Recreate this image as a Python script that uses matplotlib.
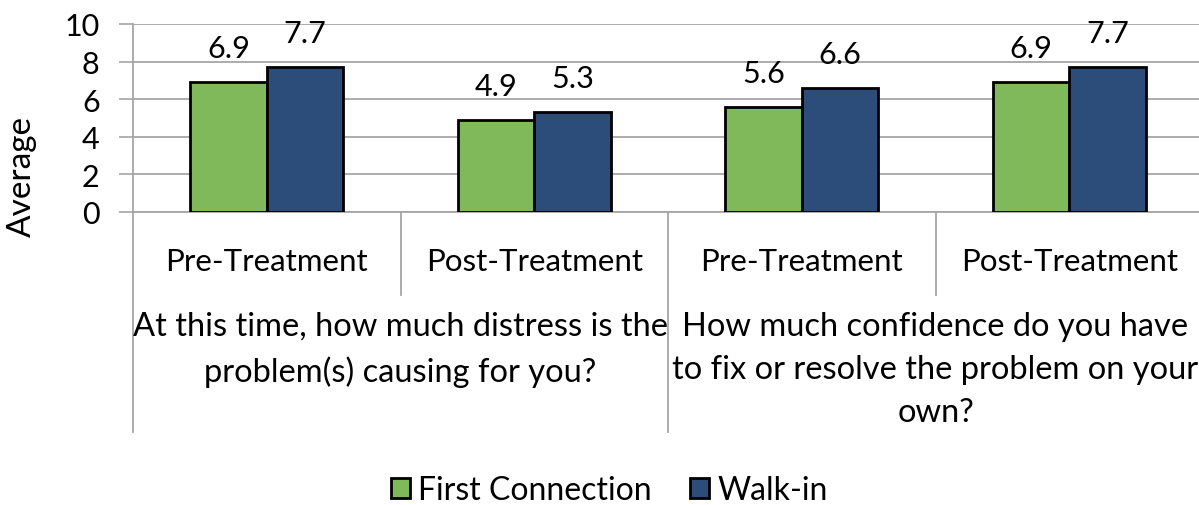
import matplotlib.pyplot as plt
import matplotlib.transforms as mtransforms
from matplotlib.patches import Patch

# Data
categories = ['Pre-Treatment', 'Post-Treatment', 'Pre-Treatment', 'Post-Treatment']
groups = ['At this time, how much distress is the\nproblem(s) causing for you?',
          'How much confidence do you have\nto fix or resolve the problem on your\nown?']
first_connection = [6.9, 4.9, 5.6, 6.9]
walk_in = [7.7, 5.3, 6.6, 7.7]

green = '#7fb95a'
blue = '#2c4c79'
grid_color = '#a6a6a6'

plt.rcParams['font.family'] = ['Lato', 'DejaVu Sans']

fig = plt.figure(figsize=(11.99, 5.06), dpi=100)
W, H = 1199, 506
ax = fig.add_axes([133 / W, 1 - 213 / H, 1070 / W, 188 / H])

x = list(range(len(categories)))
bw = 0.286
b1 = ax.bar([i - bw / 2 for i in x], first_connection, bw, color=green,
            edgecolor='black', linewidth=2, zorder=3)
b2 = ax.bar([i + bw / 2 for i in x], walk_in, bw, color=blue,
            edgecolor='black', linewidth=2, zorder=3)

# Data labels
for bars in (b1, b2):
    for rect in bars:
        h = rect.get_height()
        ax.annotate(f'{h:.1f}', (rect.get_x() + rect.get_width() / 2, h),
                    xytext=(0, 20), textcoords='offset pixels',
                    ha='center', va='bottom', fontsize=22)

ax.set_xlim(-0.5, 3.5)
ax.set_ylim(0, 10)
ax.set_yticks(range(0, 11, 2))
ax.tick_params(axis='y', labelsize=22, length=10, width=1.2, color=grid_color, pad=14)
ax.set_xticks([])
ax.yaxis.grid(True, color=grid_color, linewidth=1.3, zorder=0)
for s in ('top', 'right'):
    ax.spines[s].set_visible(False)
for s in ('left', 'bottom'):
    ax.spines[s].set_color(grid_color)
    ax.spines[s].set_linewidth(1.3)

fig.text(22 / W, 1 - 177 / H, 'Average', rotation=90, ha='center', va='center', fontsize=24)

# Multi-level category axis
trans = mtransforms.blended_transform_factory(ax.transData, fig.transFigure)
for i, c in enumerate(categories):
    ax.text(i, 1 - 262 / H, c, transform=trans, ha='center', va='center', fontsize=22.5)
for d in (0.5, 2.5):
    ax.plot([d, d], [1 - 213 / H, 1 - 296 / H], transform=trans, color=grid_color,
            linewidth=1.3, clip_on=False)
for d in (-0.5, 1.5, 3.5):
    ax.plot([d, d], [1 - 213 / H, 1 - 433 / H], transform=trans, color=grid_color,
            linewidth=1.3, clip_on=False)
for j, g in enumerate(groups):
    ax.text(2 * j + 0.5, 1 - 312 / H, g, transform=trans, ha='center', va='top',
            fontsize=23.5, linespacing=1.55)

# Legend
handles = [Patch(facecolor=green, edgecolor='black', linewidth=2, label='First Connection'),
           Patch(facecolor=blue, edgecolor='black', linewidth=2, label='Walk-in')]
fig.legend(handles=handles, loc='center', bbox_to_anchor=(0.508, 1 - 491 / H), ncol=2,
           frameon=False, fontsize=23, handlelength=0.6, handleheight=0.6,
           handletextpad=0.25, columnspacing=1.2)

fig.savefig('out.png', dpi=100)
